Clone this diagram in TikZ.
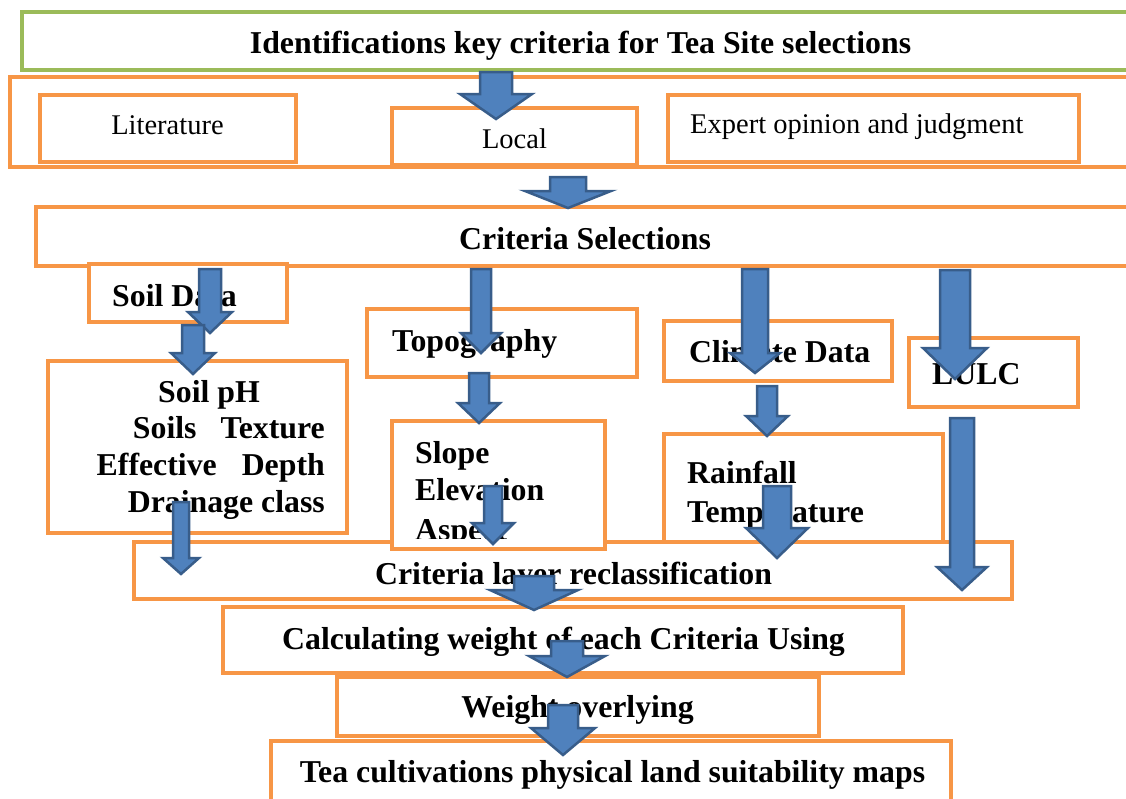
\documentclass[tikz,border=0pt]{standalone}
\usepackage{fontspec}
\setmainfont{Liberation Serif}
\definecolor{orangeC}{HTML}{F79646}
\definecolor{greenC}{HTML}{9BBB59}
\definecolor{blueF}{HTML}{4F81BD}
\definecolor{blueD}{HTML}{385D8A}
\newcommand{\barrow}[6]{%
 \draw[blk] ({#1-#5},#2) -- ({#1+#5},#2) -- ({#1+#5},#3) -- ({#1+#6},#3) -- (#1,#4) -- ({#1-#6},#3) -- ({#1-#5},#3) -- cycle;}
\begin{document}
\begin{tikzpicture}[x=1pt,y=-1pt,
 obox/.style={draw=orangeC, line width=4pt, fill=white},
 gbox/.style={draw=greenC, line width=4pt, fill=white},
 blk/.style={draw=blueD, fill=blueF, line width=2.5pt, line join=miter},
 bt/.style={font=\fontsize{31.8}{38}\selectfont\bfseries, inner sep=0pt},
 rt/.style={font=\fontsize{28.5}{34}\selectfont, inner sep=0pt}]
\useasboundingbox (0,0) rectangle (1126,798);
\clip (0,0) rectangle (1126,798);
% boxes
\draw[gbox] (22,12) rectangle (1145,70);
\draw[obox] (10,77) rectangle (1145,167);
\draw[obox] (40,95) rectangle (296,162);
\draw[obox] (392,108) rectangle (637,165);
\draw[obox] (668,95) rectangle (1079,162);
\draw[obox] (36,207) rectangle (1145,266);
\draw[obox] (89,264) rectangle (287,322);
\draw[obox] (367,309) rectangle (637,377);
\draw[obox] (664,321) rectangle (892,381);
\draw[obox] (909,338) rectangle (1078,407);
\draw[obox] (48,361) rectangle (347,533);
\draw[obox] (134,542) rectangle (1012,599);
\draw[obox] (392,421) rectangle (605,549);
\draw[obox] (664,434) rectangle (943,542);
\draw[obox] (223,607) rectangle (903,673);
\draw[obox] (337,677) rectangle (819,736);
\draw[obox] (271,741) rectangle (951,810);
% texts
\node[bt, anchor=base] (title) at (580.5,53) {Identifications key criteria for Tea Site selections};
\node[rt, anchor=base] (lit) at (167.5,134) {Literature};
\node[rt, anchor=base] (local) at (514.5,148) {Local};
\node[rt, anchor=base west] (expert) at (690,133) {Expert opinion and judgment};
\node[bt, anchor=base] (csel) at (585,249) {Criteria Selections};
\node[bt, anchor=base west] (soild) at (112,306) {Soil Data};
\node[bt, anchor=base west] (topo) at (392,351) {Topography};
\node[bt, anchor=base west] (clim) at (689,362) {Climate Data};
\node[bt, anchor=base west] (lulc) at (932,384) {LULC};
\node[bt, anchor=base] (ph) at (209,402) {Soil pH};
\node[bt, anchor=base east] (tex) at (325,438) {Soils\hspace{24pt}Texture};
\node[bt, anchor=base east] (dep) at (325,475) {Effective\hspace{25pt}Depth};
\node[bt, anchor=base east] (drain) at (325,512) {Drainage class};
\node[bt, anchor=base west] (slope) at (415,463) {Slope};
\node[bt, anchor=base west] (elev) at (415,500) {Elevation};
\begin{scope}
\clip (392,421) rectangle (605,538);
\node[bt, anchor=base west] (aspect) at (415,540) {Aspect};
\end{scope}
\node[bt, anchor=base west] (rain) at (687,483) {Rainfall};
\node[bt, anchor=base west] (temp) at (687,522) {Temperature};
\node[bt, anchor=base] (recl) at (573.5,584) {Criteria layer reclassification};
\node[bt, anchor=base] (calc) at (563.5,649) {Calculating weight of each Criteria Using};
\node[bt, anchor=base] (wov) at (577.5,717) {Weight overlying};
\node[bt, anchor=base] (tea) at (612.5,782) {Tea cultivations physical land suitability maps};
% block arrows
\barrow{496}{72}{94}{119}{16}{36}
\barrow{568}{177}{191}{208}{18}{43}
\barrow{210}{269}{312}{333}{11}{22}
\barrow{193}{325}{353}{374}{11}{22}
\barrow{481}{269}{333}{353}{10}{20}
\barrow{479}{373}{403}{423}{10}{21}
\barrow{493}{486}{523}{544}{9}{21}
\barrow{181}{502}{558}{574}{8}{18}
\barrow{755}{269}{353}{373}{13}{25}
\barrow{767}{386}{416}{436}{10}{21}
\barrow{777}{486}{528}{558}{14}{31}
\barrow{955}{270}{348}{379}{15}{32}
\barrow{962}{418}{567}{590}{12}{25}
\barrow{534}{576}{590}{610}{20}{44}
\barrow{567}{641}{656}{677}{16}{38}
\barrow{563}{705}{728}{755}{15}{32}
\end{tikzpicture}
\end{document}
